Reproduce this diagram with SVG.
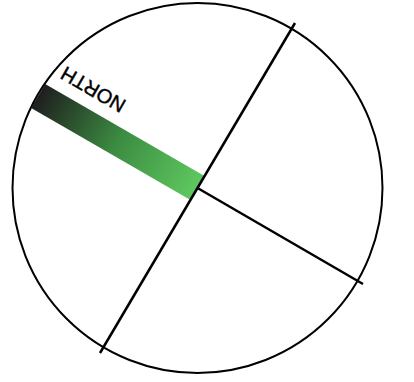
<svg xmlns="http://www.w3.org/2000/svg" width="414" height="382" viewBox="0 0 414 382">
  <style>
    .ln { stroke: #000; stroke-width: 2.5; fill: none; stroke-linecap: butt; }
    .rim { stroke: #000; stroke-width: 2; fill: #fff; }
    .lbl { font-family: "Liberation Sans", Arial, sans-serif; font-size: 20px; fill: #000; stroke: #000; stroke-width: 0.4; }
  </style>
  <defs>
    <linearGradient id="barGrad" x1="0" y1="0" x2="1" y2="0">
      <stop offset="0" stop-color="#5ec85f"/>
      <stop offset="0.5" stop-color="#3c8c42"/>
      <stop offset="1" stop-color="#1e1e1e"/>
    </linearGradient>
  </defs>
  <rect width="414" height="382" fill="#fff"/>
  <g id="dial">
    <circle class="rim" cx="197.5" cy="188" r="185"/>
  </g>
  <g id="needle">
    <rect x="0" y="-14" width="184" height="28" fill="url(#barGrad)" transform="translate(197.5,188) rotate(210)"/>
    <text class="lbl" x="0" y="7" text-anchor="middle" transform="translate(93,89.5) rotate(210)">NORTH</text>
  </g>
  <g id="connectors">
    <line class="ln" x1="295" y1="23" x2="100" y2="353"/>
    <line class="ln" x1="197.5" y1="188" x2="363" y2="284"/>
  </g>
</svg>
